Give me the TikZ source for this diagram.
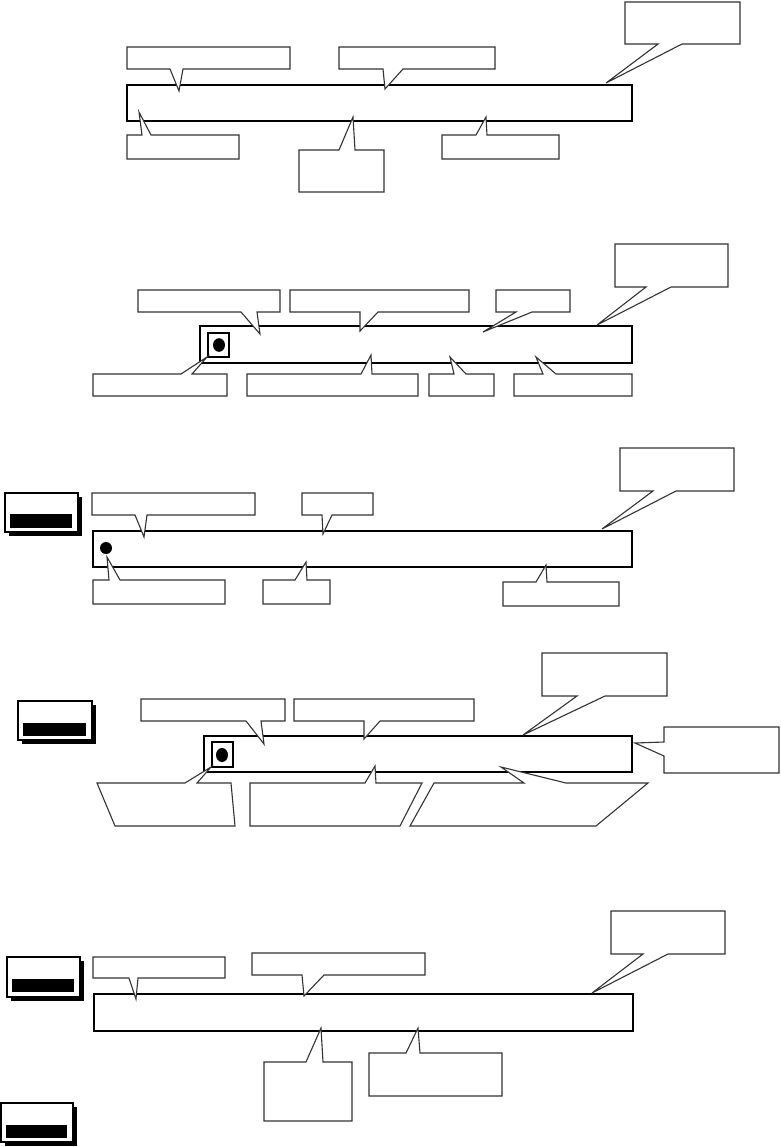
\documentclass[tikz,border=0pt]{standalone}
\tikzset{
  bar/.style={draw=black, fill=white, line width=1.3pt},
  callbox/.style={draw=black!80, fill=white, line width=0.55pt, line join=miter},
  smallsq/.style={draw=black, fill=white, line width=0.8pt},
  dotmark/.style={fill=black},
  btnshadow/.style={fill=black},
  btnface/.style={draw=black, fill=white, line width=0.6pt},
  btnbar/.style={fill=black}
}
% callout box above target, pointer from bottom edge
\newcommand\calldown[8]{\path[callbox] (#1,#2) -- (#3,#2) -- (#3,#4) -- (#6,#4) -- (#7,#8) -- (#5,#4) -- (#1,#4) -- cycle;}
% callout box below target, pointer from top edge
\newcommand\callup[8]{\path[callbox] (#1,#2) -- (#5,#2) -- (#7,#8) -- (#6,#2) -- (#3,#2) -- (#3,#4) -- (#1,#4) -- cycle;}
\newcommand\btnicon[6]{%
  \fill[btnshadow] (#1+4,#2+4) rectangle (#3+4,#4+4);
  \path[btnface] (#1,#2) rectangle (#3,#4);
  \fill[btnbar] (#1+5,#5) rectangle (#3-6,#6);}
\begin{document}
\begin{tikzpicture}[x=0.5pt,y=-0.5pt]
\useasboundingbox (0,0) rectangle (781,1147);
\fill[white] (0,0) rectangle (781,1147);

% ---------- Section 1 ----------
\path[bar] (127,85) rectangle (632,121);
\calldown{625}{2}{740}{44}{658}{682}{606}{83}
\calldown{127}{47}{290}{69}{170}{183}{179}{91}
\calldown{339}{47}{495}{69}{383}{403}{385}{89}
\callup{127}{135}{239}{159}{142}{151}{139}{112}
\callup{299}{150}{384}{192}{339}{355}{353}{117}
\callup{442}{135}{559}{159}{476}{487}{486}{117}

% ---------- Section 2 ----------
\path[bar] (200,326) rectangle (632,363);
\path[smallsq] (208,333) rectangle (229,357);
\fill[dotmark] (219,345) ellipse [x radius=3pt, y radius=3.4pt];
\calldown{615}{244}{728}{287}{646}{671}{597}{325}
\calldown{138}{290}{280}{312}{241}{257}{260}{334}
\calldown{290}{290}{469}{312}{360}{378}{360}{331}
\calldown{496}{290}{570}{312}{516}{532}{483}{332}
\callup{93}{374}{227}{396}{181}{192}{207}{357}
\callup{247}{374}{418}{396}{361}{372}{371}{355}
\callup{429}{374}{494}{396}{454}{466}{450}{357}
\callup{514}{374}{632}{396}{543}{556}{536}{357}

% ---------- Section 3 ----------
\btnicon{5}{493}{78}{532}{514}{528}
\path[bar] (93,531) rectangle (632,567);
\fill[dotmark] (106,548) circle [radius=3pt];
\calldown{92}{493}{255}{515}{135}{147}{144}{537}
\calldown{302}{493}{373}{515}{322}{332}{323}{534}
\calldown{620}{448}{734}{491}{653}{676}{602}{529}
\callup{93}{580}{225}{604}{109}{120}{107}{557}
\callup{263}{580}{330}{604}{295}{307}{306}{562}
\callup{503}{582}{619}{606}{536}{547}{546}{565}

% ---------- Section 4 ----------
\btnicon{18}{701}{92}{740}{723}{736}
\path[bar] (204,736) rectangle (632,772);
\path[smallsq] (212,742) rectangle (233,767);
\fill[dotmark] (222,755) ellipse [x radius=3pt, y radius=3.5pt];
\calldown{141}{699}{285}{721}{246}{261}{264}{744}
\calldown{294}{699}{474}{721}{364}{380}{364}{739}
\calldown{542}{653}{667}{696}{577}{605}{523}{735}
\path[callbox] (664,727) -- (779,727) -- (779,773) -- (664,773) -- (664,756) -- (635,743) -- (664,742) -- cycle;
\path[callbox] (97,783) -- (185,783) -- (211,767) -- (197,783) -- (231,783) -- (235,826) -- (115,826) -- cycle;
\path[callbox] (250,783) -- (365,783) -- (375,766) -- (376,783) -- (422,783) -- (400,826) -- (250,826) -- cycle;
\path[callbox] (434,783) -- (524,783) -- (501,767) -- (566,783) -- (648,783) -- (596,826) -- (410,826) -- cycle;

% ---------- Section 5 ----------
\btnicon{7}{957}{80}{997}{979}{992}
\btnicon{1}{1103}{73}{1142}{1125}{1138}
\path[bar] (94,994) rectangle (633,1031);
\calldown{93}{957}{225}{978}{129}{138}{136}{999}
\calldown{252}{953}{425}{975}{302}{324}{304}{996}
\calldown{611}{911}{725}{954}{643}{668}{592}{993}
\callup{264}{1062}{352}{1121}{306}{323}{321}{1028}
\callup{369}{1053}{502}{1096}{406}{420}{418}{1028}
\end{tikzpicture}
\end{document}
